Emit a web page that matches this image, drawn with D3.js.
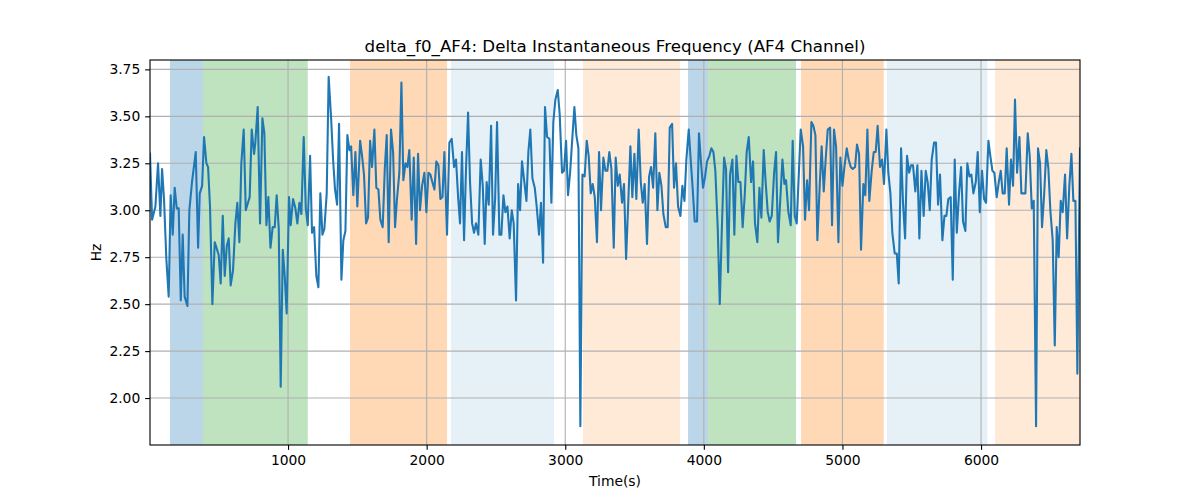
<!DOCTYPE html>
<html><head><meta charset="utf-8">
<script src="https://cdn.jsdelivr.net/npm/d3@7"></script>
<style>body{margin:0;background:#fff}svg{display:block}text{font-family:"DejaVu Sans",sans-serif;fill:#000}</style>
</head><body><svg id="c" width="1200" height="500"></svg>
<script>
const title = "delta_f0_AF4: Delta Instantaneous Frequency (AF4 Channel)";
const xLabel = "Time(s)";
const yLabel = "Hz";
const xTicks = [1000, 2000, 3000, 4000, 5000, 6000];
const yTicks = [2.00, 2.25, 2.50, 2.75, 3.00, 3.25, 3.50, 3.75];
const xDomain = [4, 6714];
const yDomain = [1.75, 3.80];

// shaded spans: [start, end, colour, opacity]
const spanStart = [148, 386, 1447, 2176, 3128, 3886, 4030, 4701, 5321, 6101];
const spanEnd   = [386, 1142, 2147, 2919, 3828, 4030, 4665, 5298, 6045, 6714];
const spanColor = ["#1f77b4","#2ca02c","#ff7f0e","#1f77b4","#ff7f0e","#1f77b4","#2ca02c","#ff7f0e","#1f77b4","#ff7f0e"];
const spanAlpha = [0.3, 0.3, 0.3, 0.11, 0.16, 0.3, 0.3, 0.3, 0.11, 0.16];

const times = [4,19,43,62,79,91,105,122,139,153,168,182,197,211,226,240,254,274,288,307,334,351,363,380,394,411,423,437,454,471,488,500,514,529,543,558,572,586,603,620,634,649,663,680,695,711,723,738,755,
764,781,798,815,829,844,858,873,889,904,918,933,947,962,976,990,1007,1019,1036,1053,1067,1082,1096,1113,1128,1142,1159,1173,1188,1204,1219,1233,1248,1262,1279,1293,1310,1325,1339,1354,1368,1385,1399,1414,1428,1443,1455,1471,1486,1500,
1520,1534,1548,1563,1577,1592,1606,1623,1637,1652,1666,1683,1698,1712,1726,1743,1758,1772,1786,1803,1818,1832,1847,1861,1875,1892,1907,1924,1938,1952,1967,1984,1998,2013,2027,2041,2056,2070,2085,2099,2114,2128,2147,2164,2181,2198,2212,2227,2241,2255,
2270,2284,2299,2313,2328,2342,2356,2373,2390,2405,2419,2433,2448,2465,2479,2494,2508,2525,2539,2554,2568,2583,2599,2614,2628,2645,2660,2674,2688,2705,2720,2734,2748,2763,2780,2794,2811,2825,2840,2854,2869,2886,2900,2914,2929,2946,2960,2977,2991,3006,
3020,3035,3049,3066,3080,3095,3109,3124,3140,3155,3169,3184,3198,3213,3229,3244,3258,3275,3290,3304,3318,3333,3350,3364,3379,3393,3410,3424,3439,3453,3470,3484,3499,3513,3530,3545,3559,3573,3590,3605,3619,3634,3650,3665,3679,3694,3708,3725,3739,3754,
3771,3785,3799,3814,3831,3845,3860,3874,3891,3905,3920,3934,3951,3965,3980,3994,4009,4023,4040,4054,4069,4083,4100,4115,4129,4146,4160,4175,4189,4206,4220,4235,4249,4264,4280,4295,4309,4324,4341,4355,4369,4386,4401,4415,4432,4446,4461,4475,4490,4507,
4521,4535,4567,4581,4593,4610,4627,4641,4656,4670,4699,4716,4730,4745,4759,4776,4790,4805,4819,4836,4850,4865,4879,4894,4911,4925,4939,4954,4971,4985,5000,5014,5031,5045,5060,5074,5091,5105,5120,5134,5151,5165,5180,5194,5211,5226,5240,5254,
5271,5286,5300,5317,5331,5346,5360,5377,5392,5406,5423,5437,5452,5466,5481,5495,5509,5526,5541,5555,5570,5586,5601,5615,5630,5644,5661,5675,5690,5704,5721,5736,5750,5764,5781,5796,5810,5825,5841,5856,5870,5887,5901,5916,5930,5945,5962,5976,5991,6007,
6022,6036,6053,6067,6082,6096,6113,6128,6142,6156,6171,6185,6202,6216,6231,6245,6260,6277,6291,6305,6320,6337,6351,6366,6380,6397,6411,6426,6440,6455,6471,6486,6500,6517,6532,6546,6560,6575,6589,6606,6621,6637,6652,6666,6681,6695,6714];

const values = [3.30,2.95,3.02,3.25,2.97,3.22,3.06,2.74,2.54,3.08,2.87,3.12,3.01,3.01,2.52,2.87,2.54,2.49,3.00,3.15,3.31,2.80,3.09,3.13,3.39,3.25,3.23,3.02,2.50,2.83,2.79,2.76,2.61,2.97,2.65,2.81,2.85,2.60,2.68,2.93,3.04,2.83,3.25,3.43,3.00,3.04,3.07,3.43,3.30,
3.36,3.55,2.93,3.49,3.41,2.92,3.07,2.80,2.91,2.91,3.08,2.90,2.06,2.79,2.65,2.45,3.07,2.92,3.06,3.01,2.93,3.04,2.98,3.39,3.01,2.92,3.29,2.88,2.91,2.65,2.59,3.09,2.87,2.90,3.09,3.71,3.50,3.27,3.11,3.03,3.46,2.63,2.84,2.89,3.40,3.32,3.34,3.08,3.31,3.02,
3.37,3.29,3.19,2.93,2.96,3.37,3.23,3.43,3.12,3.11,2.95,2.91,3.22,3.40,2.83,3.43,3.31,2.91,3.06,3.20,3.68,3.16,3.25,3.23,3.32,2.95,3.28,2.82,3.30,3.00,3.13,3.20,2.99,3.20,3.19,3.15,3.11,3.26,3.24,3.06,3.07,3.31,2.87,3.36,3.38,3.23,3.27,3.07,2.93,3.31,
2.84,3.22,3.52,3.15,2.93,2.88,2.93,2.87,3.27,3.13,2.82,3.15,3.03,3.45,2.87,3.06,3.47,2.87,2.87,3.08,2.99,3.02,2.85,3.00,2.93,2.52,3.14,3.00,3.26,3.15,3.05,3.31,3.43,3.17,3.12,3.02,2.87,3.04,2.72,3.55,3.39,3.38,3.04,3.47,3.59,3.64,3.51,3.20,3.21,3.37,
3.08,3.20,3.36,3.55,3.40,3.33,1.85,3.19,3.18,3.37,3.29,3.09,3.14,3.07,2.83,3.31,3.00,3.28,3.21,3.21,3.31,3.22,2.80,3.28,3.13,3.19,3.04,3.14,2.74,3.01,3.34,3.07,3.30,3.06,3.43,3.15,3.04,3.14,2.82,3.18,3.23,3.12,3.41,3.00,3.20,3.13,2.98,2.91,2.91,3.44,
3.46,3.12,3.25,3.02,2.97,3.13,3.05,3.27,3.43,3.27,3.11,2.94,2.94,3.41,3.25,3.12,3.18,3.26,3.29,3.33,3.31,3.21,2.91,2.50,2.88,3.28,3.22,2.67,3.19,3.27,2.87,3.29,3.15,3.15,2.91,3.08,3.31,3.39,3.15,3.26,2.93,2.83,3.12,2.96,3.32,3.15,2.99,2.94,2.97,3.20,
3.31,2.83,3.27,3.14,3.16,2.99,2.92,3.37,2.97,2.93,3.43,3.34,2.95,3.16,3.00,3.47,3.45,3.40,2.84,3.13,3.34,3.10,3.27,3.43,3.44,2.92,3.43,3.34,2.83,3.28,3.13,3.23,3.33,3.27,3.23,3.22,3.23,3.35,3.30,2.79,3.14,3.08,3.43,3.05,3.21,3.31,3.31,3.45,
3.23,3.27,3.14,3.43,3.20,3.09,2.88,2.77,2.77,2.61,3.33,3.04,2.85,3.29,3.20,3.24,3.24,3.10,3.24,2.85,3.21,2.97,3.21,3.15,3.00,3.27,3.36,3.36,3.03,3.19,2.84,2.97,2.97,3.06,3.07,2.63,3.27,2.88,3.09,3.23,2.94,2.89,3.25,3.18,3.19,3.09,3.15,3.31,2.99,3.21,
3.06,3.04,3.37,3.29,3.21,3.20,3.07,3.15,3.21,3.09,3.09,3.33,3.03,3.27,3.13,3.59,3.20,3.39,3.09,3.09,3.09,3.41,3.29,3.01,3.05,1.85,3.33,3.25,2.91,3.08,3.32,3.22,3.00,2.84,2.28,2.91,2.75,3.05,2.99,3.19,2.85,3.13,3.30,3.05,3.05,2.13,3.33];

const margin = {left:150, right:120, top:60, bottom:55};
const W = 1200, H = 500;
const PT = 100 / 72;
const svg = d3.select("#c");
const x = d3.scaleLinear().domain(xDomain).range([margin.left, W - margin.right]);
const y = d3.scaleLinear().domain(yDomain).range([H - margin.bottom, margin.top]);

// spans
svg.append("g").selectAll("rect").data(spanStart).join("rect")
  .attr("x", (d,i) => x(d)).attr("width", (d,i) => x(spanEnd[i]) - x(d))
  .attr("y", margin.top).attr("height", H - margin.bottom - margin.top)
  .attr("fill", (d,i) => spanColor[i]).attr("fill-opacity", (d,i) => spanAlpha[i]);

// grid
const g = svg.append("g").attr("stroke", "#b0b0b0").attr("stroke-width", 0.8 * PT);
g.selectAll(".gx").data(xTicks).join("line")
  .attr("x1", d => x(d)).attr("x2", d => x(d)).attr("y1", margin.top).attr("y2", H - margin.bottom);
g.selectAll(".gy").data(yTicks).join("line")
  .attr("y1", d => y(d)).attr("y2", d => y(d)).attr("x1", margin.left).attr("x2", W - margin.right);

// clip + line
svg.append("clipPath").attr("id","clip").append("rect")
  .attr("x", margin.left).attr("y", margin.top).attr("width", W - margin.left - margin.right).attr("height", H - margin.top - margin.bottom);
const line = d3.line().x((d,i) => x(times[i])).y(d => y(d));
svg.append("path").datum(values).attr("clip-path","url(#clip)")
  .attr("d", line).attr("fill","none").attr("stroke","#1f77b4").attr("stroke-width",1.5 * PT).attr("stroke-linejoin","round").attr("stroke-linecap","square");

// axes
const xAxis = d3.axisBottom(x).tickValues(xTicks).tickFormat(d3.format("d")).tickSize(3.5 * PT).tickPadding(3.5 * PT);
const yAxis = d3.axisLeft(y).tickValues(yTicks).tickFormat(d3.format(".2f")).tickSize(3.5 * PT).tickPadding(3.5 * PT);
const ax = svg.append("g").attr("transform", `translate(0,${H - margin.bottom})`).call(xAxis);
const ay = svg.append("g").attr("transform", `translate(${margin.left},0)`).call(yAxis);
[ax, ay].forEach(a => {
  a.select(".domain").remove();
  a.selectAll("line").attr("stroke","#000").attr("stroke-width",0.8 * PT);
  a.selectAll("text").attr("font-size", (10 * PT) + "px").attr("font-family","DejaVu Sans").attr("fill","#000");
});
// frame
svg.append("rect").attr("x", margin.left).attr("y", margin.top)
  .attr("width", W - margin.left - margin.right).attr("height", H - margin.top - margin.bottom)
  .attr("fill","none").attr("stroke","#000").attr("stroke-width",0.8 * PT);

svg.append("text").attr("x", (margin.left + W - margin.right)/2).attr("y", 52)
  .attr("text-anchor","middle").attr("font-size", (12 * PT) + "px").text(title);
svg.append("text").attr("x", (margin.left + W - margin.right)/2).attr("y", 486)
  .attr("text-anchor","middle").attr("font-size", (10 * PT) + "px").text(xLabel);
svg.append("text").attr("transform", `translate(101,${(margin.top + H - margin.bottom)/2}) rotate(-90)`)
  .attr("text-anchor","middle").attr("font-size", (10 * PT) + "px").text(yLabel);
</script></body></html>
